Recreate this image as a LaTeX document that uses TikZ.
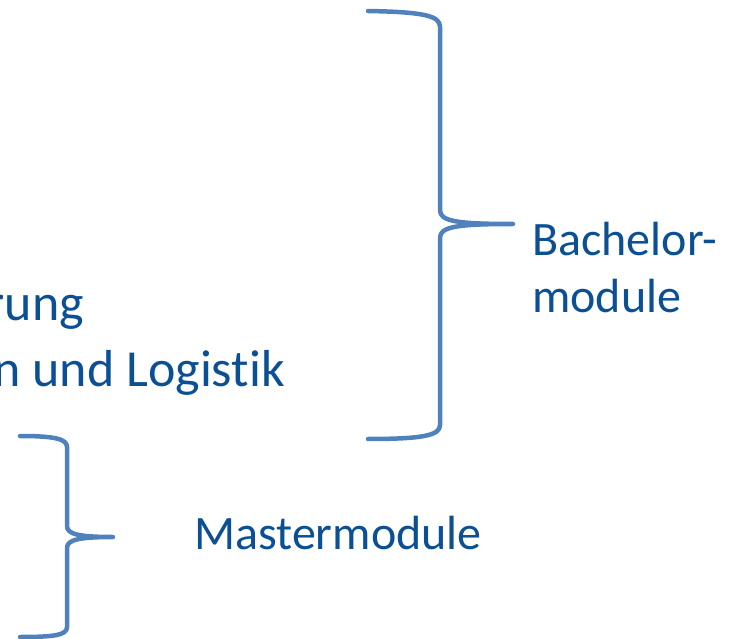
\documentclass[tikz,border=0pt]{standalone}
\usepackage{fontspec}
\setmainfont{Carlito}[Ligatures=NoCommon]
\usepackage{xcolor}
\usepackage{tikz}
\definecolor{bracecol}{HTML}{4F81BD}
\definecolor{labelcol}{HTML}{0B4F95}
\tikzset{
  brace line/.style={
    draw=bracecol,
    line width=4.5pt,
    line cap=round,
    line join=round,
  },
  module label/.style={
    text=labelcol,
    font=\fontsize{48}{58}\selectfont,
    inner sep=0pt,
    align=left,
  },
  list line/.style={
    module label,
    font=\fontsize{52}{62}\selectfont,
    anchor=base east,
  },
}

\begin{document}
\begin{tikzpicture}[x=1pt,y=-1pt]
  \useasboundingbox (0,0) rectangle (729,639);
  % cut-off list on the left
  \node[list line] (zeile1) at (84,321) {rung};
  \node[list line] (zeile2) at (285,387) {n und Logistik};
  % big brace
  \coordinate (bspitze) at (513,224);
  \draw[brace line] (368,11) .. controls (425,12) and (440,16) .. (440,27)
    -- (440,210) .. controls (440,221) and (455,224) .. (bspitze)
    .. controls (455,224) and (440,227) .. (440,238)
    -- (440,425) .. controls (440,435) and (425,439) .. (368,439);
  \node[module label,anchor=base west] (bachelor) at (532,313) {Bachelor-\\module};
  % small brace
  \coordinate (mspitze) at (113,537);
  \draw[brace line] (20,436) .. controls (55,436) and (67,439) .. (67,447)
    -- (67,526) .. controls (67,534) and (78,537) .. (mspitze)
    .. controls (78,537) and (67,540) .. (67,548)
    -- (67,627) .. controls (67,635) and (55,637) .. (20,637);
  \node[module label,anchor=base west] (master) at (194,549) {Mastermodule};
\end{tikzpicture}
\end{document}
